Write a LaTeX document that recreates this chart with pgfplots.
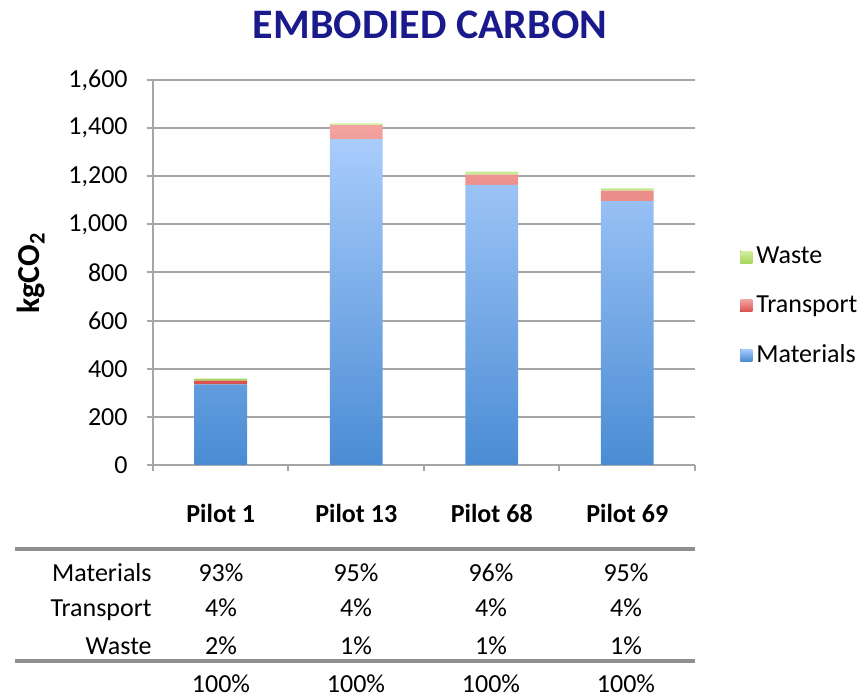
\documentclass[border=0pt]{standalone}
\usepackage{fontspec}
\setmainfont{Carlito}
\usepackage{pgfplots}
\pgfplotsset{compat=1.18}
\definecolor{matTop}{HTML}{A9CCFC}
\definecolor{matBot}{HTML}{4A8CD4}
\definecolor{trTop}{HTML}{F3A3A0}
\definecolor{trBot}{HTML}{D9534F}
\definecolor{waTop}{HTML}{D3EE9E}
\definecolor{waBot}{HTML}{A7D65E}
\definecolor{gridc}{HTML}{A6A6A6}
\definecolor{tablec}{HTML}{8F8F8F}
\definecolor{titlec}{HTML}{1A1A8C}
\begin{document}
\begin{tikzpicture}[font=\fontsize{13}{15.6}\selectfont]
\path[use as bounding box] (-76.5pt,-117.5pt) rectangle (355.5pt,232.5pt);
\begin{axis}[
  at={(0pt,0pt)}, anchor=south west,
  scale only axis, width=271pt, height=192.5pt,
  ybar stacked, bar width=0.39,
  xmin=-0.5, xmax=3.5, ymin=0, ymax=1600,
  xtick={0,1,2,3}, xticklabels={Pilot 1, Pilot 13, Pilot 68, Pilot 69},
  minor xtick={-0.5,0.5,1.5,2.5,3.5},
  ytick={0,200,...,1600},
  ymajorgrids, grid style={gridc, line width=1pt},
  axis x line*=bottom, axis y line*=left,
  axis line style={-, gridc, line width=1pt},
  tick align=outside, major tick length=3pt, minor tick length=3pt,
  tick style={gridc, line width=1pt},
  major x tick style={draw=none},
  tick label style={font=\fontsize{13}{15.6}\selectfont},
  yticklabel style={anchor=east, inner sep=0pt, xshift=-9.5pt,
    /pgf/number format/1000 sep={,}, /pgf/number format/assume math mode=true},
  xticklabel style={anchor=center, yshift=-21pt, font=\fontsize{13}{15.6}\selectfont\bfseries},
  legend style={at={(1.083,0.412)}, anchor=west, draw=none, fill=none,
    font=\fontsize{13}{15.6}\selectfont, row sep=10.5pt, inner sep=0pt},
  legend cell align=left,
  reverse legend,
  legend image code/.code={\fill[#1] (0pt,-3pt) rectangle (6pt,3pt);},
]
\addplot[draw=none, top color=matTop, bottom color=matBot] coordinates {(0,335) (1,1354) (2,1164) (3,1097)};
\addlegendentry{Materials}
\addplot[draw=none, top color=trTop, bottom color=trBot] coordinates {(0,16) (1,58) (2,43) (3,43)};
\addlegendentry{Transport}
\addplot[draw=none, top color=waTop, bottom color=waBot] coordinates {(0,8) (1,8) (2,12) (3,10)};
\addlegendentry{Waste}
\end{axis}
\node[font=\fontsize{21}{25}\selectfont\bfseries, text=titlec] at (138.5pt,220pt) {EMBODIED CARBON};
\node[rotate=90, font=\fontsize{16}{19}\selectfont\bfseries] at (-61pt,96pt) {kgCO\textsubscript{2}};
\draw[tablec, line width=2pt] (-69pt,-42pt) -- (271pt,-42pt);
\draw[tablec, line width=2pt] (-69pt,-98pt) -- (271pt,-98pt);
\node[anchor=base east, inner sep=0pt] at (-0.5pt,-58.5pt) {Materials};
\node[anchor=base east, inner sep=0pt] at (-0.5pt,-76pt) {Transport};
\node[anchor=base east, inner sep=0pt] at (-0.5pt,-95pt) {Waste};
\foreach \x/\a/\b/\c in {34/93/4/2, 101.5/95/4/1, 169/96/4/1, 236.5/95/4/1}{
  \node[anchor=base, inner sep=0pt] at (\x pt,-58.5pt) {\a\%};
  \node[anchor=base, inner sep=0pt] at (\x pt,-76pt) {\b\%};
  \node[anchor=base, inner sep=0pt] at (\x pt,-95pt) {\c\%};
  \node[anchor=base, inner sep=0pt] at (\x pt,-114pt) {100\%};
}
\end{tikzpicture}
\end{document}
